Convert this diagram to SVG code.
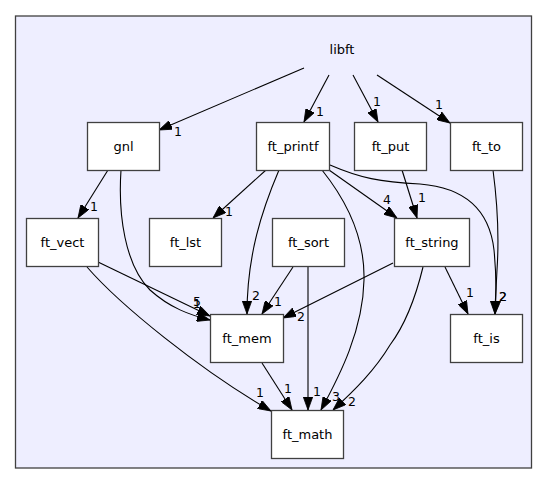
<svg xmlns="http://www.w3.org/2000/svg" width="549" height="485" viewBox="0 0 549 485">
<defs>
<style>
.frame{fill:#eeeeff;stroke:#404040;stroke-width:1.3}
.node rect{fill:#ffffff;stroke:#404040;stroke-width:1.3}
text{font-family:"DejaVu Sans","Liberation Sans",sans-serif;font-size:13px;fill:#000}
.n{text-anchor:middle}
.l{text-anchor:middle;font-size:12.5px}
.e{fill:none;stroke:#000;stroke-width:1.1;marker-end:url(#arr)}
</style>
<marker id="arr" viewBox="0 0 13 9.4" refX="13" refY="4.7" markerWidth="13" markerHeight="9.4" markerUnits="userSpaceOnUse" orient="auto">
<path d="M0,0 L13,4.7 L0,9.4 Z" fill="#000" stroke="#000" stroke-width="0.8"/>
</marker>
</defs>
<rect class="frame" x="15.5" y="16" width="516" height="452"/>
<text class="n" x="342" y="54">libft</text>
<g id="connectors">
<path class="e" d="M304,68 L159,130"/>
<path class="e" d="M329,75 L304,122"/>
<path class="e" d="M353,75 L378,122"/>
<path class="e" d="M377,75 L450,123"/>
<path class="e" d="M108,170 L78,218"/>
<path class="e" d="M121,170 C118,215 125,265 150,290 C170,308 190,315 210,320"/>
<path class="e" d="M98,262 L210,316"/>
<path class="e" d="M87,267 C120,305 200,370 271,411"/>
<path class="e" d="M266,170 L213,218"/>
<path class="e" d="M279,170 C262,210 247,255 247,314"/>
<path class="e" d="M322,170 C350,205 365,240 364,280 C363,330 340,375 321,410"/>
<path class="e" d="M329,170 L397,218"/>
<path class="e" d="M330,165 C360,178 380,182 420,184 C470,188 490,215 494,250 C497,280 496,300 495,314"/>
<path class="e" d="M402,170 L417,218"/>
<path class="e" d="M493,170 C497,200 499,240 497,270 C496,290 495,305 495,314"/>
<path class="e" d="M293,267 L262,314"/>
<path class="e" d="M308,267 L308,410"/>
<path class="e" d="M393,263 L283,318"/>
<path class="e" d="M423,267 C415,300 405,325 390,345 C375,370 355,390 333,410"/>
<path class="e" d="M445,267 L468,314"/>
<path class="e" d="M262,363 L292,410"/>
<text class="l" x="178" y="136">1</text>
<text class="l" x="320" y="116">1</text>
<text class="l" x="377" y="106">1</text>
<text class="l" x="439" y="109">1</text>
<text class="l" x="94" y="211">1</text>
<text class="l" x="229" y="216">1</text>
<text class="l" x="256" y="300">2</text>
<text class="l" x="336" y="401">3</text>
<text class="l" x="387" y="204">4</text>
<text class="l" x="503" y="301">2</text>
<text class="l" x="422" y="202">1</text>
<text class="l" x="503" y="301">2</text>
<text class="l" x="470" y="297">1</text>
<text class="l" x="352" y="406">2</text>
<text class="l" x="301" y="321">2</text>
<text class="l" x="278" y="306">1</text>
<text class="l" x="317" y="396">1</text>
<text class="l" x="288" y="393">1</text>
<text class="l" x="260" y="397">1</text>
<text class="l" x="197" y="306">5</text>
<text class="l" x="197" y="308">1</text>
</g>
<g id="gnl" class="node"><rect x="87.5" y="122.5" width="72" height="48"/><text class="n" x="123.5" y="151">gnl</text></g>
<g id="ft_printf" class="node"><rect x="256.5" y="122.5" width="73" height="48"/><text class="n" x="293" y="151">ft_printf</text></g>
<g id="ft_put" class="node"><rect x="354.5" y="122.5" width="72" height="48"/><text class="n" x="390.5" y="151">ft_put</text></g>
<g id="ft_to" class="node"><rect x="450.5" y="122.5" width="72" height="48"/><text class="n" x="486.5" y="151">ft_to</text></g>
<g id="ft_vect" class="node"><rect x="26.5" y="218.5" width="72" height="48"/><text class="n" x="62.5" y="247">ft_vect</text></g>
<g id="ft_lst" class="node"><rect x="149.5" y="218.5" width="72" height="48"/><text class="n" x="185.5" y="247">ft_lst</text></g>
<g id="ft_sort" class="node"><rect x="272.5" y="218.5" width="72" height="48"/><text class="n" x="308.5" y="247">ft_sort</text></g>
<g id="ft_string" class="node"><rect x="394.5" y="218.5" width="75" height="48"/><text class="n" x="432" y="247">ft_string</text></g>
<g id="ft_mem" class="node"><rect x="210.5" y="314.5" width="73" height="48"/><text class="n" x="247" y="343">ft_mem</text></g>
<g id="ft_is" class="node"><rect x="450.5" y="314.5" width="72" height="48"/><text class="n" x="486.5" y="343">ft_is</text></g>
<g id="ft_math" class="node"><rect x="271.5" y="410.5" width="72" height="48"/><text class="n" x="307.5" y="439">ft_math</text></g>
</svg>
